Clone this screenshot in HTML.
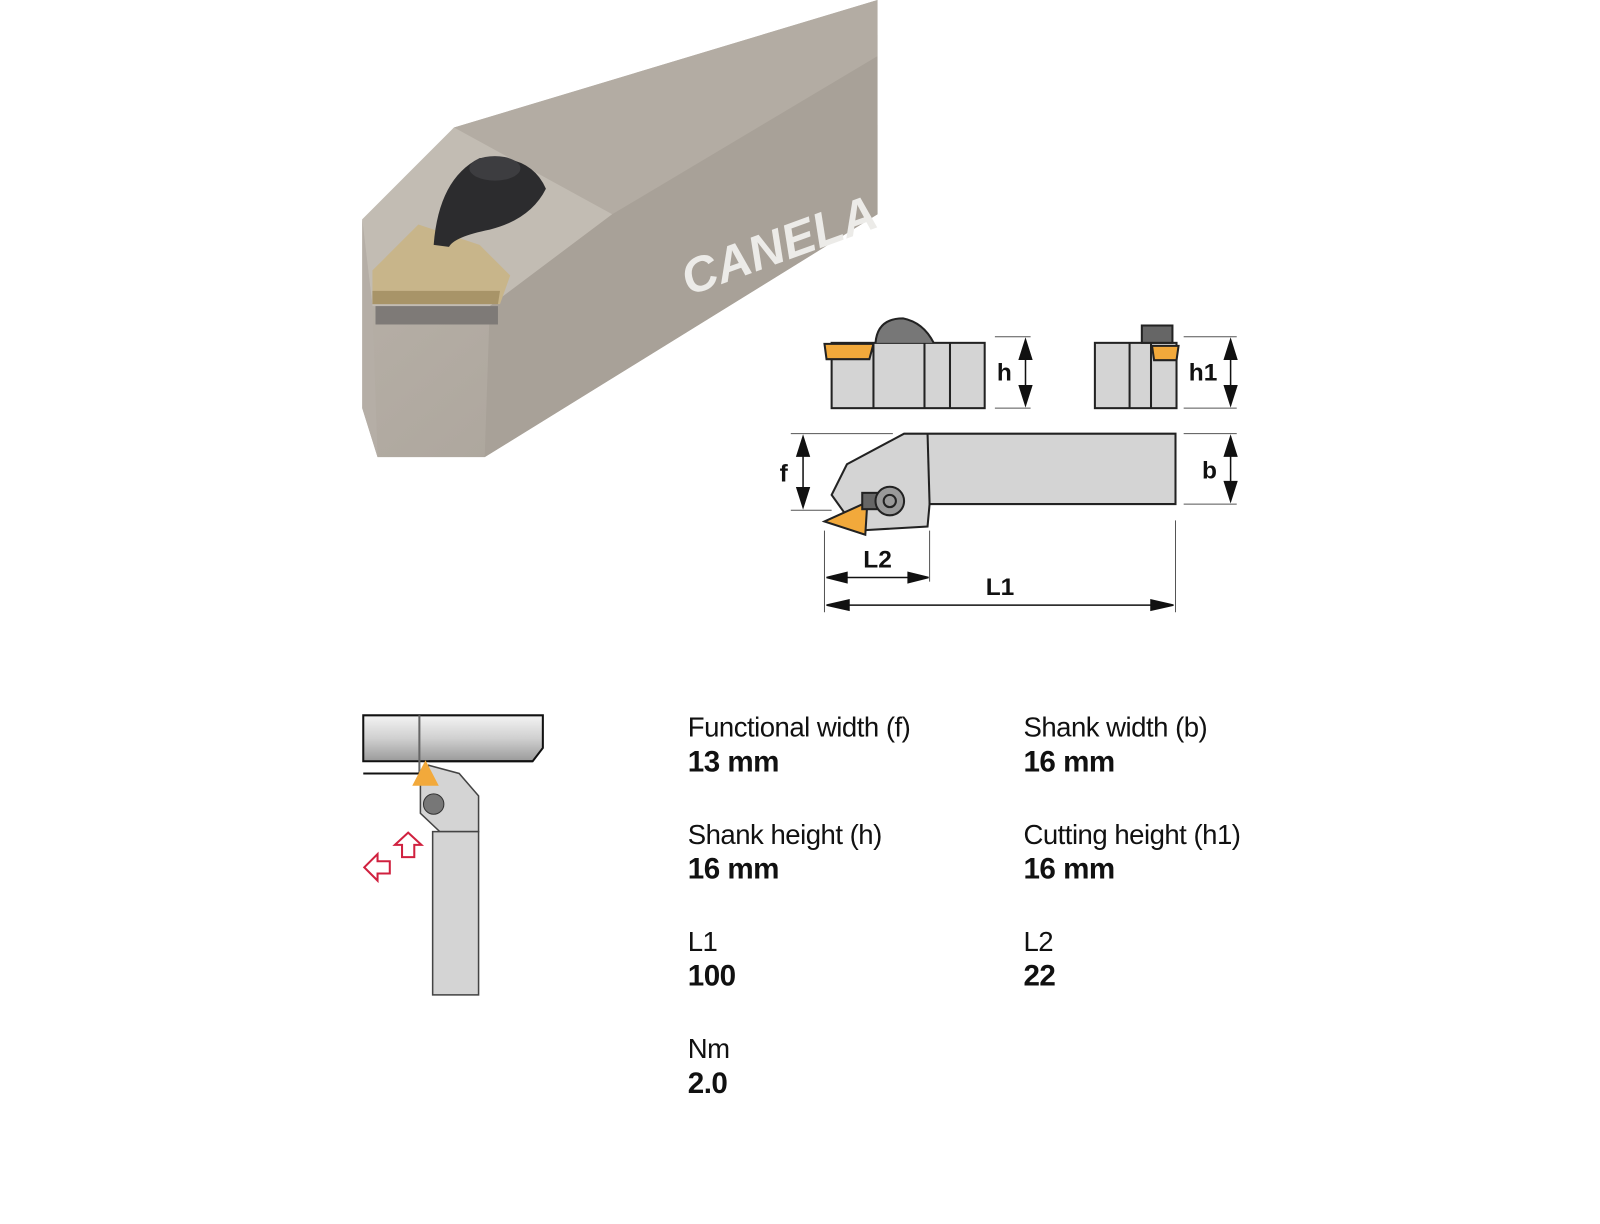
<!DOCTYPE html>
<html><head><style>
html,body{margin:0;padding:0;background:#fff;}
body{width:1600px;height:1200px;position:relative;overflow:hidden;font-family:"Liberation Sans",sans-serif;}
#w{position:absolute;left:0;top:0;width:1600px;height:1200px;transform:scale(1.0204);transform-origin:0 0;}
.t{position:absolute;font-size:27px;color:#111;line-height:34px;letter-spacing:-0.5px;}
.t b{display:block;font-size:29px;}
</style></head><body><div id="w">
<svg width="1600" height="1200" style="position:absolute;left:0;top:0">
<defs>
<linearGradient id="g1" x1="0" y1="0" x2="1" y2="1"><stop offset="0" stop-color="#bdb6ad"/><stop offset="1" stop-color="#a59e95"/></linearGradient>
<linearGradient id="g2" x1="0" y1="0" x2="0" y2="1"><stop offset="0" stop-color="#f4f4f4"/><stop offset="0.5" stop-color="#d0d0d0"/><stop offset="1" stop-color="#9a9a9a"/></linearGradient>
</defs>
<polygon points="355,215 445,125 860,0 860,210 475,448 370,448 355,400" fill="url(#g1)"/>
<polygon points="445,125 860,0 860,55 600,210 540,200" fill="#b3aca3"/>
<polygon points="355,215 445,125 600,210 480,300 365,300" fill="#c2bcb3"/>
<polygon points="355,215 365,300 370,448 355,400" fill="#b5aea6"/>
<polygon points="600,210 860,55 860,210 475,448 480,300" fill="#a8a198"/>
<polygon points="365,265 410,220 470,240 500,270 490,298 365,298" fill="#c8b58a"/>
<polygon points="365,285 490,285 488,298 365,298" fill="#a89468"/>
<rect x="368" y="300" width="120" height="18" fill="#7e7a77"/>
<path d="M425,240 Q430,175 470,155 Q520,150 535,185 Q520,215 480,225 Q445,232 440,242 Z" fill="#2c2c2e"/>
<ellipse cx="485" cy="165" rx="25" ry="12" fill="#3d3d40"/>
<text x="675" y="290" transform="rotate(-20 675 290)" font-family="Liberation Sans" font-weight="bold" font-style="italic" font-size="48" fill="#ecebe8">CANELA</text>
<g stroke="#222" stroke-width="2" fill="#d4d4d4">
<rect x="815" y="336" width="150" height="64"/>
<line x1="856" y1="336" x2="856" y2="400"/><line x1="906" y1="336" x2="906" y2="400"/><line x1="931" y1="336" x2="931" y2="400"/>
<path d="M858,336 Q860,312 885,312 Q905,316 915,336" fill="#777"/>
<polygon points="808,337 856,337 852,352 810,352" fill="#f2a93b"/>
<rect x="1073" y="336" width="80" height="64"/>
<line x1="1107" y1="336" x2="1107" y2="400"/><line x1="1128" y1="336" x2="1128" y2="400"/>
<rect x="1119" y="319" width="30" height="17" fill="#666"/>
<polygon points="1129,339 1155,339 1153,353 1131,353" fill="#f2a93b"/>
<polygon points="886,425 1152,425 1152,494 911,494 909,516 840,520 815,485 830,455"/>
<line x1="909" y1="425" x2="911" y2="494"/>
<polygon points="808,511 850,492 848,524" fill="#f2a93b"/>
<rect x="845" y="483" width="30" height="16" fill="#666"/>
<circle cx="872" cy="491" r="14" fill="#999"/><circle cx="872" cy="491" r="6" fill="#999"/>
</g>
<g stroke="#555" stroke-width="1" fill="none">
<line x1="975" y1="330" x2="1010" y2="330"/><line x1="975" y1="400" x2="1010" y2="400"/>
<line x1="1160" y1="330" x2="1212" y2="330"/><line x1="1160" y1="400" x2="1212" y2="400"/>
<line x1="1160" y1="425" x2="1212" y2="425"/><line x1="1160" y1="494" x2="1212" y2="494"/>
<line x1="775" y1="425" x2="875" y2="425"/><line x1="775" y1="500" x2="815" y2="500"/>
<line x1="808" y1="520" x2="808" y2="600"/><line x1="911" y1="520" x2="911" y2="570"/><line x1="1152" y1="510" x2="1152" y2="600"/>
</g>
<g stroke="#111" stroke-width="1.5" fill="#111">
<line x1="1005" y1="335" x2="1005" y2="395"/><polygon points="999,352 1011,352 1005,333"/><polygon points="999,378 1011,378 1005,397"/>
<line x1="1206" y1="335" x2="1206" y2="395"/><polygon points="1200,352 1212,352 1206,333"/><polygon points="1200,378 1212,378 1206,397"/>
<line x1="1206" y1="430" x2="1206" y2="490"/><polygon points="1200,447 1212,447 1206,428"/><polygon points="1200,472 1212,472 1206,491"/>
<line x1="787" y1="430" x2="787" y2="496"/><polygon points="781,447 793,447 787,428"/><polygon points="781,478 793,478 787,497"/>
<line x1="812" y1="566" x2="908" y2="566"/><polygon points="830,561 830,571 810,566"/><polygon points="890,561 890,571 910,566"/>
<line x1="812" y1="593" x2="1148" y2="593"/><polygon points="832,588 832,598 810,593"/><polygon points="1128,588 1128,598 1150,593"/>
</g>
<g font-family="Liberation Sans" font-weight="bold" font-size="24" fill="#111">
<text x="977" y="373">h</text><text x="1165" y="373">h1</text><text x="1178" y="469">b</text><text x="764" y="472">f</text>
<text x="846" y="556">L2</text><text x="966" y="583">L1</text>
</g>
<path d="M356,701 H532 V733 L522,746 H356 Z" fill="url(#g2)" stroke="#111" stroke-width="2"/>
<line x1="411" y1="701" x2="411" y2="758" stroke="#666" stroke-width="2"/>
<line x1="356" y1="758" x2="420" y2="758" stroke="#111" stroke-width="2"/>
<line x1="420" y1="746" x2="522" y2="746" stroke="#111" stroke-width="2"/>
<polygon points="420,750 450,758 469,780 469,815 431,815 412,797 412,770" fill="#d4d4d4" stroke="#444" stroke-width="1.5"/>
<rect x="424" y="815" width="45" height="160" fill="#d4d4d4" stroke="#444" stroke-width="1.5"/>
<polygon points="417,745 404,770 430,770" fill="#f2a93b"/>
<circle cx="425" cy="788" r="10" fill="#777" stroke="#333"/>
<polygon points="400,816 413,828 406,828 406,840 394,840 394,828 387,828" fill="none" stroke="#d0213f" stroke-width="2"/>
<polygon points="357,850 370,837 370,844 382,844 382,856 370,856 370,863" fill="none" stroke="#d0213f" stroke-width="2"/>
</svg>
<div class="t" style="left:674px;top:696px">Functional width (f)<b>13 mm</b></div>
<div class="t" style="left:1003px;top:696px">Shank width (b)<b>16 mm</b></div>
<div class="t" style="left:674px;top:801px">Shank height (h)<b>16 mm</b></div>
<div class="t" style="left:1003px;top:801px">Cutting height (h1)<b>16 mm</b></div>
<div class="t" style="left:674px;top:906px">L1<b>100</b></div>
<div class="t" style="left:1003px;top:906px">L2<b>22</b></div>
<div class="t" style="left:674px;top:1011px">Nm<b>2.0</b></div>
</div></body></html>
